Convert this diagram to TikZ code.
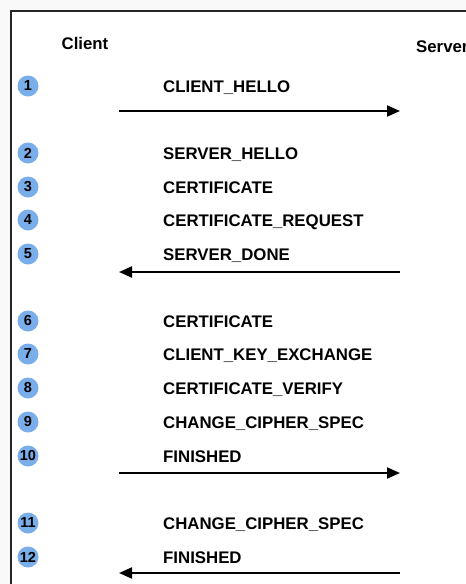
\documentclass[tikz,border=0pt]{standalone}
\usepackage{fontspec}
\setmainfont{Liberation Sans}
\usetikzlibrary{arrows.meta,positioning}
\definecolor{stepblue}{HTML}{79AEEA}

\begin{document}
\begin{tikzpicture}[x=1pt,y=-1pt,
  msg/.style={anchor=base west, inner sep=0pt, font=\fontsize{16.8}{20}\selectfont\bfseries},
  num/.style={circle, fill=stepblue, minimum size=21pt, inner sep=0pt, font=\fontsize{14.5}{14.5}\selectfont\bfseries},
  flow/.style={-{Triangle[length=13pt,width=11pt]}, line width=2pt}]
  \clip (0,0) rectangle (466,584);
  \fill[gray!5] (0,0) rectangle (466,584);
  \draw[fill=white, line width=2pt, draw=black!85] (11,11) rectangle (490,610);

  \node[msg, anchor=base] (Client) at (85,49) {Client};
  \node[msg] (Server) at (416,52) {Server};

  % server hello phase
  \node[num] (N1) at (28,86) {1};
  \node[msg] (M1) at (163,92) {CLIENT\_HELLO};
  \node[num] (N2) at (28,153) {2};
  \node[msg] (M2) at (163,159) {SERVER\_HELLO};
  \node[num] (N3) at (28,187) {3};
  \node[msg] (M3) at (163,193) {CERTIFICATE};
  \node[num] (N4) at (28,220) {4};
  \node[msg] (M4) at (163,226) {CERTIFICATE\_REQUEST};
  \node[num] (N5) at (28,254) {5};
  \node[msg] (M5) at (163,260) {SERVER\_DONE};

  % client reply
  \node[num] (N6) at (28,321) {6};
  \node[msg] (M6) at (163,327) {CERTIFICATE};
  \node[num] (N7) at (28,354) {7};
  \node[msg] (M7) at (163,360) {CLIENT\_KEY\_EXCHANGE};
  \node[num] (N8) at (28,388) {8};
  \node[msg] (M8) at (163,394) {CERTIFICATE\_VERIFY};
  \node[num] (N9) at (28,422) {9};
  \node[msg] (M9) at (163,428) {CHANGE\_CIPHER\_SPEC};
  \node[num] (N10) at (28,456) {10};
  \node[msg] (M10) at (163,462) {FINISHED};

  % server finish
  \node[num] (N11) at (28,523) {11};
  \node[msg] (M11) at (163,529) {CHANGE\_CIPHER\_SPEC};
  \node[num] (N12) at (28,557) {12};
  \node[msg] (M12) at (163,563) {FINISHED};

  \coordinate (C1) at (119,111);  \coordinate (S1) at (400,111);
  \coordinate (C5) at (119,272);  \coordinate (S5) at (400,272);
  \coordinate (C10) at (119,473); \coordinate (S10) at (400,473);
  \coordinate (C12) at (119,573); \coordinate (S12) at (400,573);

  \draw[flow] (C1) -- (S1);
  \draw[flow] (S5) -- (C5);
  \draw[flow] (C10) -- (S10);
  \draw[flow] (S12) -- (C12);
\end{tikzpicture}
\end{document}
